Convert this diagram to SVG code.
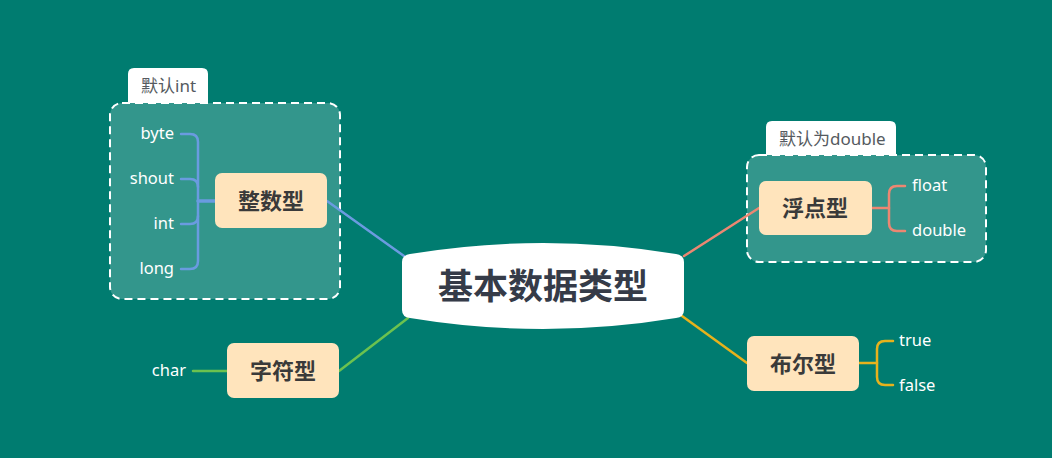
<svg xmlns="http://www.w3.org/2000/svg" width="1052" height="458" viewBox="0 0 1052 458">
<style>
.bg{fill:#007C70}
.grp{fill:#ffffff;fill-opacity:0.2;stroke:#ffffff;stroke-width:2;stroke-dasharray:8 5}
.tab{fill:#ffffff}
.tabt{font-family:"Noto Sans","Noto Sans CJK SC",sans-serif;font-size:17px;fill:#555a60}
.node{fill:#FFE4BC}
.nt{font-family:"Noto Sans CJK SC","Noto Sans",sans-serif;font-size:22px;font-weight:bold;fill:#3a3a3a;text-anchor:middle}
.leaf{font-family:"Noto Sans","Open Sans",sans-serif;font-size:16.5px;fill:#ffffff}
.ct{font-family:"Noto Sans CJK SC","Noto Sans",sans-serif;font-size:35px;font-weight:bold;fill:#353B48;text-anchor:middle}
.c{fill:none;stroke-width:2.5;stroke-linecap:round}
.blue{stroke:#6A9BE0}
.coral{stroke:#EC8772}
.yel{stroke:#E7B21C}
.grn{stroke:#6BC24F}
</style>
<rect class="bg" x="0" y="0" width="1052" height="458"/>
<g id="boundary-int">
<path class="tab" d="M128,103 V74 Q128,68 134,68 H202 Q208,68 208,74 V103 Z"/>
<rect class="grp" x="110" y="103" width="230" height="196" rx="12"/>
<text class="tabt" x="141" y="92">默认int</text>
</g>
<g id="boundary-float">
<path class="tab" d="M766,155 V127 Q766,121 772,121 H890 Q896,121 896,127 V155 Z"/>
<rect class="grp" x="747" y="155" width="239" height="107" rx="12"/>
<text class="tabt" x="779" y="145">默认为double</text>
</g>
<g id="connectors">
<path class="c blue" d="M327,201 L404,256"/>
<path class="c blue" d="M181,134 H190 Q198,134 198,142 V261 Q198,269 190,269 H181"/>
<path class="c blue" d="M181,179 H190 Q198,179 198,187"/>
<path class="c blue" d="M181,224 H190 Q198,224 198,216"/>
<path class="c blue" d="M198,201 H215" style="stroke-width:3.5"/>
<path class="c coral" d="M759,208 L684,256"/>
<path class="c coral" d="M872,208 H889"/>
<path class="c coral" d="M905,186 H897 Q889,186 889,194 V223 Q889,231 897,231 H905"/>
<path class="c yel" d="M747,363 L682,316"/>
<path class="c yel" d="M859,363 H877"/>
<path class="c yel" d="M893,341 H885 Q877,341 877,349 V377 Q877,385 885,385 H893"/>
<path class="c grn" d="M339,371 L408,318"/>
<path class="c grn" d="M193,371 H227"/>
</g>
<g id="center">
<path fill="#ffffff" d="M402,262 Q402,255 410,254 Q543,232 676,254 Q684,255 684,262 V310 Q684,317 676,318 Q543,340 410,318 Q402,317 402,310 Z"/>
<text class="ct" x="543" y="299">基本数据类型</text>
</g>
<g id="n-int">
<rect class="node" x="215" y="173" width="112" height="55" rx="7"/>
<text class="nt" x="271" y="209">整数型</text>
</g>
<g id="n-float">
<rect class="node" x="759" y="181" width="113" height="54" rx="7"/>
<text class="nt" x="815" y="216">浮点型</text>
</g>
<g id="n-bool">
<rect class="node" x="747" y="336" width="112" height="55" rx="7"/>
<text class="nt" x="803" y="372">布尔型</text>
</g>
<g id="n-char">
<rect class="node" x="227" y="343" width="112" height="55" rx="7"/>
<text class="nt" x="283" y="379">字符型</text>
</g>
<g id="leaves">
<text class="leaf" x="174" y="139" text-anchor="end">byte</text>
<text class="leaf" x="174" y="184" text-anchor="end">shout</text>
<text class="leaf" x="174" y="229" text-anchor="end">int</text>
<text class="leaf" x="174" y="274" text-anchor="end">long</text>
<text class="leaf" x="912" y="191">float</text>
<text class="leaf" x="912" y="236">double</text>
<text class="leaf" x="899" y="346">true</text>
<text class="leaf" x="899" y="391">false</text>
<text class="leaf" x="186" y="376" text-anchor="end">char</text>
</g>
</svg>
